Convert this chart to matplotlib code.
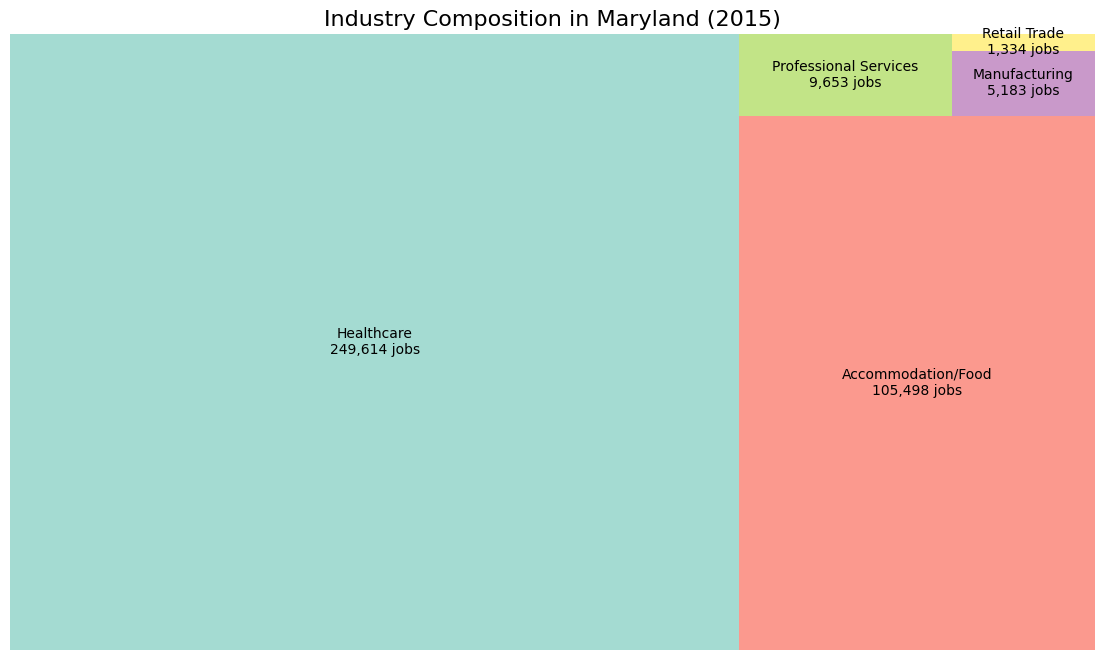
import matplotlib
matplotlib.use("Agg")
import matplotlib.pyplot as plt
import numpy as np

industries = ["Healthcare", "Accommodation/Food", "Professional Services",
              "Manufacturing", "Retail Trade"]
jobs = [249614, 105498, 9653, 5183, 1334]


# squarified treemap layout (same algorithm as the squarify package)
def layoutrow(sizes, x, y, dx, dy):
    width = sum(sizes) / dy
    rects = []
    for s in sizes:
        rects.append((x, y, width, s / width))
        y += s / width
    return rects


def layoutcol(sizes, x, y, dx, dy):
    height = sum(sizes) / dx
    rects = []
    for s in sizes:
        rects.append((x, y, s / height, height))
        x += s / height
    return rects


def layout(sizes, x, y, dx, dy):
    if dx >= dy:
        return layoutrow(sizes, x, y, dx, dy)
    return layoutcol(sizes, x, y, dx, dy)


def leftover(sizes, x, y, dx, dy):
    if dx >= dy:
        w = sum(sizes) / dy
        return x + w, y, dx - w, dy
    h = sum(sizes) / dx
    return x, y + h, dx, dy - h


def worst_ratio(sizes, x, y, dx, dy):
    return max(max(w / h, h / w) for _, _, w, h in layout(sizes, x, y, dx, dy))


def squarify(sizes, x, y, dx, dy):
    if len(sizes) == 0:
        return []
    if len(sizes) == 1:
        return layout(sizes, x, y, dx, dy)
    i = 1
    while i < len(sizes) and worst_ratio(sizes[:i], x, y, dx, dy) >= worst_ratio(sizes[:i + 1], x, y, dx, dy):
        i += 1
    current, remaining = sizes[:i], sizes[i:]
    lx, ly, ldx, ldy = leftover(current, x, y, dx, dy)
    return layout(current, x, y, dx, dy) + squarify(remaining, lx, ly, ldx, ldy)


total = sum(jobs)
norm = [v * 100 * 100 / total for v in jobs]
rects = squarify(norm, 0, 0, 100, 100)

colors = plt.cm.Set3(np.linspace(0, 1, len(jobs)))
labels = [f"{n}\n{v:,} jobs" for n, v in zip(industries, jobs)]

fig = plt.figure(figsize=(11.05, 6.6), dpi=100)
ax = fig.add_axes([10 / 1105, 1 - 650 / 660, 1085 / 1105, 616 / 660])

for (x, y, w, h), c, lab in zip(rects, colors, labels):
    ax.bar(x, h, width=w, bottom=y, color=c, alpha=0.8, align="edge", linewidth=0)
    ax.text(x + w / 2, y + h / 2, lab, ha="center", va="center", fontsize=10)

ax.set_xlim(0, 100)
ax.set_ylim(0, 100)
ax.axis("off")
ax.set_title("Industry Composition in Maryland (2015)", fontsize=16)

fig.savefig("out.png", dpi=100)
